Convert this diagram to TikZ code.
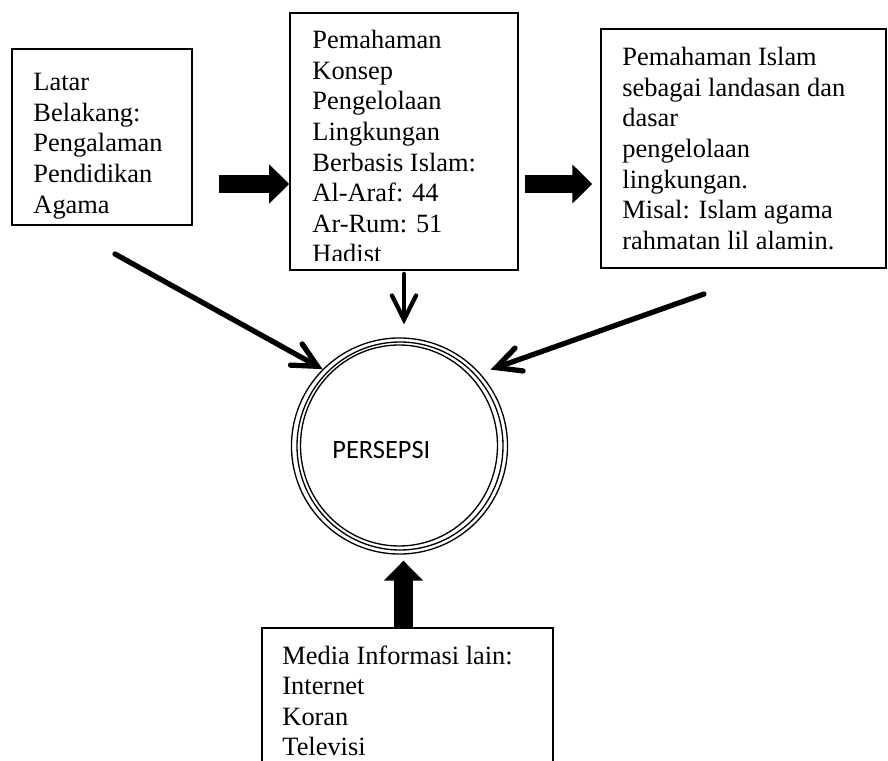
\documentclass[tikz,border=0pt]{standalone}
\usepackage{fontspec}
\setmainfont{Liberation Serif}
\newfontfamily\calibri{Carlito}
\usetikzlibrary{arrows.meta, positioning, fit}

\begin{document}
\begin{tikzpicture}[x=0.4545pt, y=-0.4545pt,
    box/.style={draw, line width=0.7pt, inner sep=0pt},
    boxtext/.style={anchor=north west, align=left, inner sep=0pt, font=\fontsize{12}{13.9}\selectfont},
    fat_arrow/.style={line width=8.2pt, -{Triangle[length=9.1pt, width=17.3pt]}},
    thin_arrow/.style={line width=2.4pt, line cap=round, -{Straight Barb[length=11pt, width=11pt, line cap=round]}}]
    \useasboundingbox (0,0) rectangle (888,761);
    \clip (0,0) rectangle (888,761);

    \node[box, fit={(12,49) (192,225)}] (latar_belakang) {};
    \node[boxtext] (latar_text) at (33,73) {Latar\\Belakang:\\Pengalaman\\Pendidikan\\Agama};

    \node[box, fit={(290,13) (518,270)}] (konsep_islam) {};
    \begin{scope}
        \clip (290,13) rectangle (518,261);
        \node[boxtext] (konsep_text) at (312,30) {Pemahaman\\Konsep\\Pengelolaan\\Lingkungan\\Berbasis Islam:\\Al-Araf: 44\\Ar-Rum: 51\\Hadist};
    \end{scope}

    \node[box, fit={(601,29) (886,268)}] (landasan_islam) {};
    \node[boxtext] (landasan_text) at (622,47) {Pemahaman Islam\\sebagai landasan dan\\dasar\\pengelolaan\\lingkungan.\\Misal: Islam agama\\rahmatan lil alamin.};

    \node[box, fit={(262,628) (553,800)}] (media_info) {};
    \node[boxtext] (media_text) at (282,645) {Media Informasi lain:\\Internet\\Koran\\Televisi};

    \node[circle, draw, line width=0.6pt, minimum size=98.2pt, inner sep=0pt] (persepsi) at (399.5,446) {};
    \draw[line width=0.6pt] (persepsi.center) ++(0.5,0) ellipse [x radius=103, y radius=104];
    \draw[line width=0.6pt] (persepsi.center) ++(-0.5,-0.5) ellipse [x radius=98.5, y radius=100.5];
    \node[font=\calibri\fontsize{12}{14}\selectfont, anchor=base west, inner sep=0pt] (persepsi_label) at (332,459) {PERSEPSI};

    \coordinate (left_push) at (219,184);
    \coordinate (right_push) at (525,184);
    \coordinate (bottom_push) at (403.5,628);
    \coordinate (latar_foot) at (115,254);
    \coordinate (landasan_foot) at (704,294);

    \draw[fat_arrow] (left_push) -- (left_push -| konsep_islam.west);
    \draw[fat_arrow, shorten >=3.6pt] (right_push) -- (right_push -| landasan_islam.west);
    \draw[fat_arrow, shorten >=2.7pt] (bottom_push) -- (bottom_push |- persepsi.south);

    \draw[thin_arrow, line width=1.9pt, shorten <=1.4pt, shorten >=5.9pt] (konsep_islam.south) -- (konsep_islam.south |- persepsi.north);
    \draw[thin_arrow] (latar_foot) -- (persepsi.135);
    \draw[thin_arrow, shorten >=5pt] (landasan_foot) -- (persepsi.42);
\end{tikzpicture}
\end{document}
